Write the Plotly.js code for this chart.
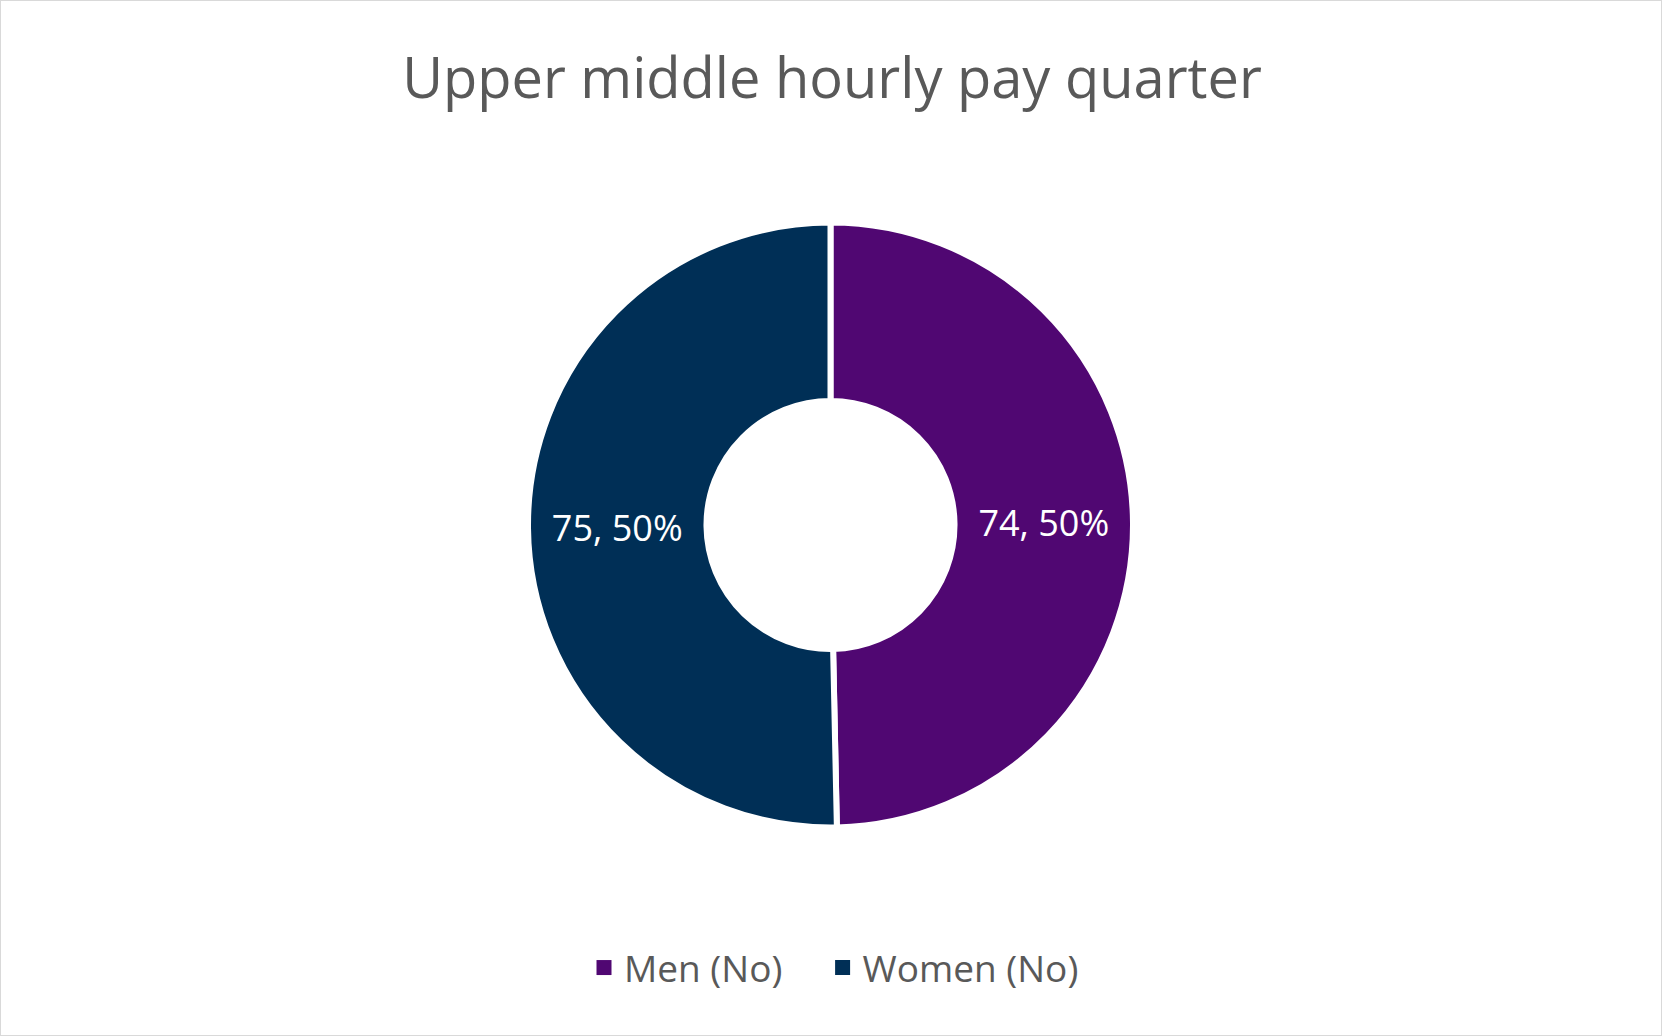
<!DOCTYPE html>
<html>
<head>
<meta charset="utf-8">
<script src="https://cdn.plot.ly/plotly-3.0.1.min.js"></script>
<style>
html,body{margin:0;padding:0;background:#fff;}
#chart{width:1662px;height:1036px;box-sizing:border-box;border:1.5px solid #d9d9d9;}
</style>
</head>
<body>
<div id="chart"></div>
<script>
const categories = ["Men (No)", "Women (No)"];
const counts = [74, 75];
const colors = ["#500772", "#002F56"];
const titleText = "Upper middle hourly pay quarter";

const cx = 829.5, cy = 524, R = 302.5, W = 1662, H = 1036;

const data = [{
  type: "pie",
  labels: categories,
  values: counts,
  sort: false,
  direction: "clockwise",
  rotation: 0,
  hole: 0.41,
  showlegend: false,
  marker: {colors: colors, line: {color: "#ffffff", width: 6}},
  texttemplate: "%{value}, %{percent:.0%}",
  textposition: "inside",
  insidetextorientation: "horizontal",
  textfont: {family: "Open Sans, sans-serif", size: 36, color: "#ffffff"},
  hoverinfo: "label+value+percent",
  domain: {x: [(cx - R) / W, (cx + R) / W], y: [(H - cy - R) / H, (H - cy + R) / H]}
}];

// legend entries (square swatches) built from the same category/colour arrays
const legendIds = ["legend", "legend2"];
categories.forEach((name, i) => {
  data.push({
    type: "scatter",
    mode: "markers",
    x: [null], y: [null],
    name: name,
    showlegend: true,
    legend: legendIds[i],
    hoverinfo: "skip",
    marker: {symbol: "square", size: 15, color: colors[i], line: {width: 0}}
  });
});

const legendFont = {family: "Open Sans, sans-serif", size: 37, color: "#595959"};
const legendY = 1 - 967 / H;

const layout = {
  width: W, height: H,
  margin: {l: 0, r: 0, t: 0, b: 0},
  paper_bgcolor: "rgba(0,0,0,0)",
  plot_bgcolor: "rgba(0,0,0,0)",
  xaxis: {visible: false, domain: [0, 0.01]},
  yaxis: {visible: false, domain: [0, 0.01]},
  title: {
    text: titleText,
    x: 0.5, xanchor: "center",
    y: 1 - 77 / H, yanchor: "middle",
    font: {family: "Open Sans, sans-serif", size: 56, color: "#595959"}
  },
  showlegend: true,
  legend: {
    orientation: "h",
    x: (603 - 20) / W, xanchor: "left",
    y: legendY, yanchor: "middle",
    font: legendFont,
    itemsizing: "trace"
  },
  legend2: {
    orientation: "h",
    x: (841.6 - 20) / W, xanchor: "left",
    y: legendY, yanchor: "middle",
    font: legendFont,
    itemsizing: "trace"
  }
};

Plotly.newPlot("chart", data, layout, {displayModeBar: false, responsive: false});
</script>
</body>
</html>
